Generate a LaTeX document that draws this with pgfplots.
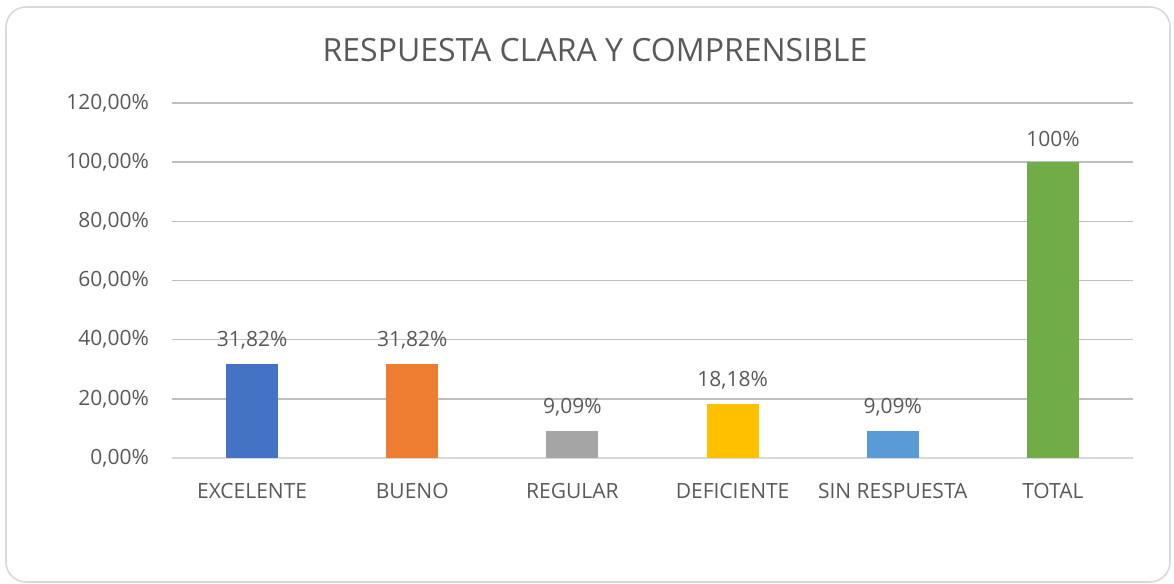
\documentclass[border=0pt]{standalone}
\usepackage{pgfplots}
\pgfplotsset{compat=1.18}
\usepackage{fontspec}
\setmainfont{Open Sans}
\definecolor{txt}{HTML}{595959}
\definecolor{grid}{HTML}{D9D9D9}
\definecolor{c1}{HTML}{4472C4}
\definecolor{c2}{HTML}{ED7D31}
\definecolor{c3}{HTML}{A5A5A5}
\definecolor{c4}{HTML}{FFC000}
\definecolor{c5}{HTML}{5B9BD5}
\definecolor{c6}{HTML}{70AD47}
\begin{document}
\begin{tikzpicture}
\path (0pt,0pt) rectangle (587pt,-292pt);
\draw[grid, line width=0.8pt, rounded corners=10pt] (3pt,-3.5pt) rectangle (585pt,-291pt);
\node[text=txt, font=\fontsize{16}{19}\selectfont] at (297.5pt,-25pt) {RESPUESTA CLARA Y COMPRENSIBLE};
\begin{axis}[
  at={(86pt,-229pt)}, anchor=south west,
  scale only axis, width=480.5pt, height=177.5pt,
  xmin=-0.5, xmax=5.5, ymin=0, ymax=120,
  ytick={0,20,...,120},
  xtick={0,...,5},
  xticklabels={EXCELENTE,BUENO,REGULAR,DEFICIENTE,SIN RESPUESTA,TOTAL},
  yticklabel={\pgfmathprintnumber[fixed,fixed zerofill,precision=2,use comma]{\tick}\%},
  /pgf/number format/assume math mode=true,
  ymajorgrids, xmajorgrids=false, grid style={grid, line width=0.8pt},
  axis x line*=bottom, axis y line*=left,
  x axis line style={grid, line width=0.8pt, -},
  y axis line style={draw=none},
  tick style={draw=none},
  ticklabel style={text=txt, font=\fontsize{10.5}{12}\selectfont},
  yticklabel style={xshift=-8pt},
  xticklabel style={yshift=-5pt},
  ybar, bar width=26pt, bar shift=0pt,
  nodes near coords={\pgfplotspointmeta},
  point meta=explicit symbolic,
  every node near coord/.append style={text=txt, font=\fontsize{10.5}{12}\selectfont, yshift=4pt},
  clip=false,
]
\addplot[fill=c1, draw=none] coordinates {(0,31.82) [31,82\%]};
\addplot[fill=c2, draw=none] coordinates {(1,31.82) [31,82\%]};
\addplot[fill=c3, draw=none] coordinates {(2,9.09) [9,09\%]};
\addplot[fill=c4, draw=none] coordinates {(3,18.18) [18,18\%]};
\addplot[fill=c5, draw=none] coordinates {(4,9.09) [9,09\%]};
\addplot[fill=c6, draw=none] coordinates {(5,100) [100\%]};
\end{axis}
\end{tikzpicture}
\end{document}
